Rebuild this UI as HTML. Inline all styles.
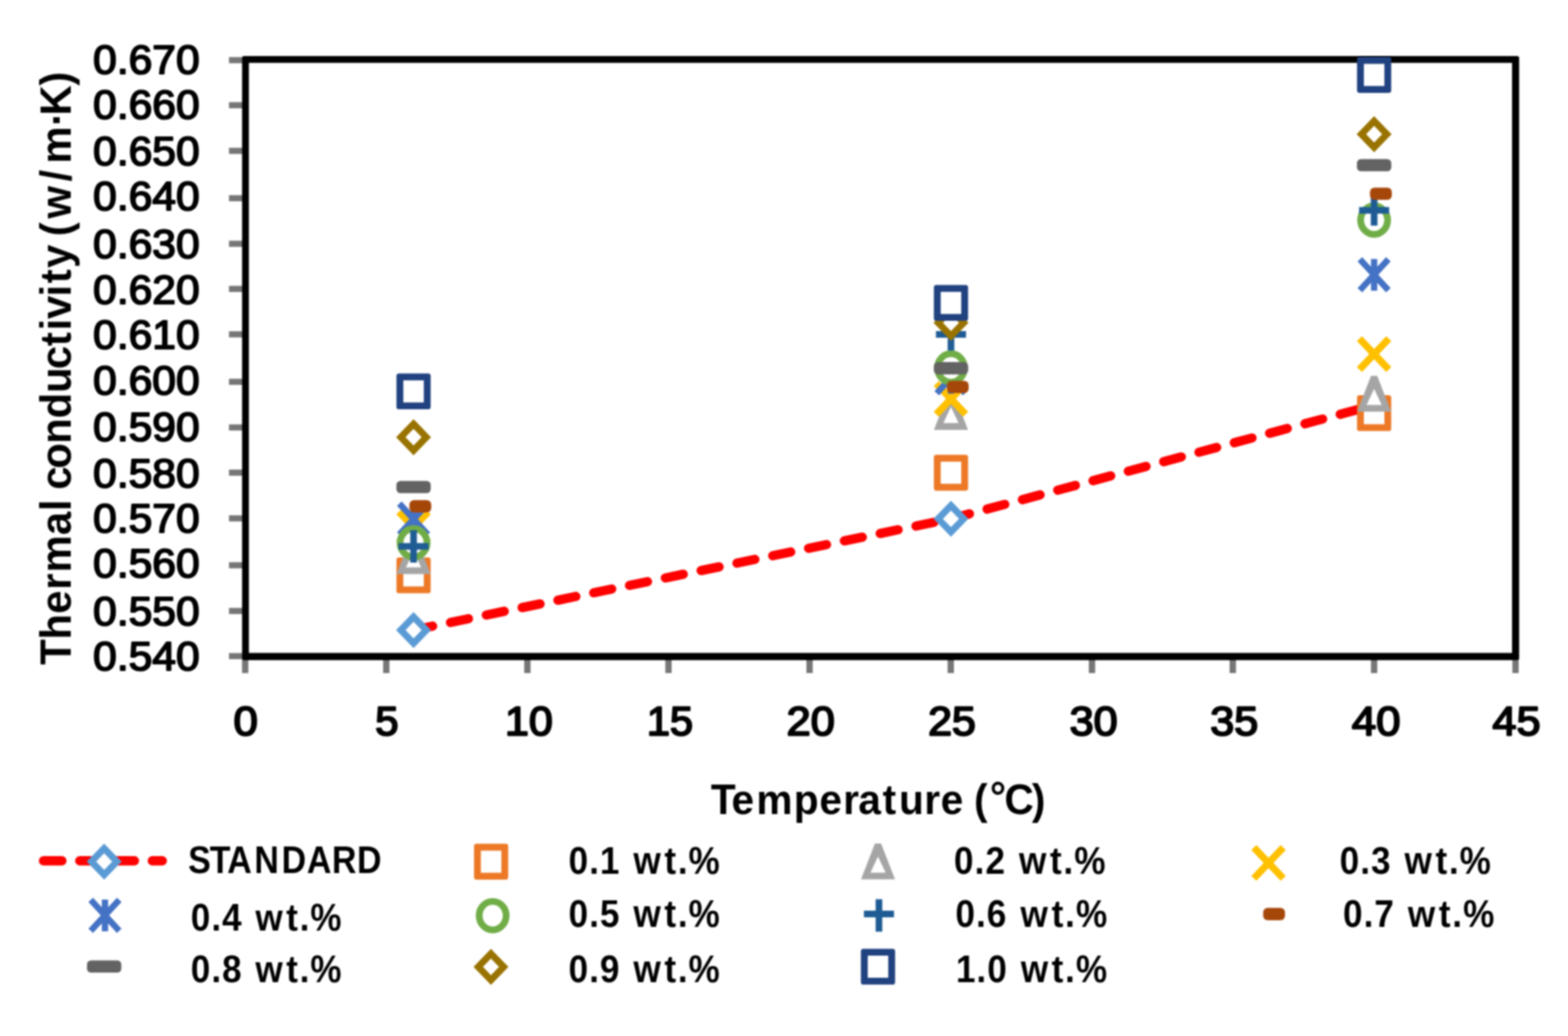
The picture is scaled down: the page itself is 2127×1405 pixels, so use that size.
<!DOCTYPE html>
<html lang="en"><head><meta charset="utf-8"><title>Thermal conductivity vs temperature</title>
<style>html,body{margin:0;padding:0;background:#fff;width:2127px;height:1405px}svg{display:block}text{font-family:"Liberation Sans",sans-serif;fill:#000;font-weight:bold}.tk,.tx{font-size:55px;font-weight:normal;stroke:#000;stroke-width:2.2px;stroke-linejoin:round}.tx{stroke-width:2.5px}.ti{font-size:60px}.lg{font-size:51px}</style></head><body>
<svg width="2127" height="1405" viewBox="0 0 2127 1405">
<rect width="2127" height="1405" fill="#fff"/>
<g style="filter:blur(1.0px)">
<g stroke="#767676" stroke-width="8.3" fill="none">
<line x1="310.6" y1="81.6" x2="333.0" y2="81.6"/>
<line x1="310.6" y1="142.7" x2="333.0" y2="142.7"/>
<line x1="310.6" y1="204.6" x2="333.0" y2="204.6"/>
<line x1="310.6" y1="268.8" x2="333.0" y2="268.8"/>
<line x1="310.6" y1="330.6" x2="333.0" y2="330.6"/>
<line x1="310.6" y1="391.8" x2="333.0" y2="391.8"/>
<line x1="310.6" y1="453.4" x2="333.0" y2="453.4"/>
<line x1="310.6" y1="517.8" x2="333.0" y2="517.8"/>
<line x1="310.6" y1="579.7" x2="333.0" y2="579.7"/>
<line x1="310.6" y1="641.0" x2="333.0" y2="641.0"/>
<line x1="310.6" y1="703.0" x2="333.0" y2="703.0"/>
<line x1="310.6" y1="766.6" x2="333.0" y2="766.6"/>
<line x1="310.6" y1="828.6" x2="333.0" y2="828.6"/>
<line x1="310.6" y1="889.8" x2="333.0" y2="889.8"/>
<line x1="332.6" y1="889.8" x2="332.6" y2="912.8" stroke-width="8.6"/>
<line x1="524.0" y1="889.8" x2="524.0" y2="912.8" stroke-width="8.6"/>
<line x1="715.4" y1="889.8" x2="715.4" y2="912.8" stroke-width="8.6"/>
<line x1="906.8" y1="889.8" x2="906.8" y2="912.8" stroke-width="8.6"/>
<line x1="1098.2" y1="889.8" x2="1098.2" y2="912.8" stroke-width="8.6"/>
<line x1="1289.7" y1="889.8" x2="1289.7" y2="912.8" stroke-width="8.6"/>
<line x1="1481.3" y1="889.8" x2="1481.3" y2="912.8" stroke-width="8.6"/>
<line x1="1672.3" y1="889.8" x2="1672.3" y2="912.8" stroke-width="8.6"/>
<line x1="1864.0" y1="889.8" x2="1864.0" y2="912.8" stroke-width="8.6"/>
<line x1="2055.8" y1="889.8" x2="2055.8" y2="912.8" stroke-width="8.6"/>
</g>
<path fill="#000" fill-rule="evenodd" d="M330.9 76.1H2058.2Q2060.7 76.1 2060.7 78.6V892.7Q2060.7 895.2 2058.2 895.2H330.9Q328.4 895.2 328.4 892.7V78.6Q328.4 76.1 330.9 76.1Z M337.6 85.2V885.6H2051.1V85.2Z"/>
<text class="tk" x="126.3" y="100.3" textLength="144.5" lengthAdjust="spacingAndGlyphs">0.670</text>
<text class="tk" x="126.3" y="161.4" textLength="144.5" lengthAdjust="spacingAndGlyphs">0.660</text>
<text class="tk" x="126.3" y="223.7" textLength="144.5" lengthAdjust="spacingAndGlyphs">0.650</text>
<text class="tk" x="126.3" y="284.8" textLength="144.5" lengthAdjust="spacingAndGlyphs">0.640</text>
<text class="tk" x="126.3" y="349.7" textLength="144.5" lengthAdjust="spacingAndGlyphs">0.630</text>
<text class="tk" x="126.3" y="411.9" textLength="144.5" lengthAdjust="spacingAndGlyphs">0.620</text>
<text class="tk" x="126.3" y="472.6" textLength="144.5" lengthAdjust="spacingAndGlyphs">0.610</text>
<text class="tk" x="126.3" y="534.9" textLength="144.5" lengthAdjust="spacingAndGlyphs">0.600</text>
<text class="tk" x="126.3" y="598.4" textLength="144.5" lengthAdjust="spacingAndGlyphs">0.590</text>
<text class="tk" x="126.3" y="660.6" textLength="144.5" lengthAdjust="spacingAndGlyphs">0.580</text>
<text class="tk" x="126.3" y="721.9" textLength="144.5" lengthAdjust="spacingAndGlyphs">0.570</text>
<text class="tk" x="126.3" y="782.7" textLength="144.5" lengthAdjust="spacingAndGlyphs">0.560</text>
<text class="tk" x="126.3" y="848.0" textLength="144.5" lengthAdjust="spacingAndGlyphs">0.550</text>
<text class="tk" x="126.3" y="908.5" textLength="144.5" lengthAdjust="spacingAndGlyphs">0.540</text>
<text class="tx" x="316.7" y="997.4" textLength="33.0" lengthAdjust="spacingAndGlyphs">0</text>
<text class="tx" x="509.0" y="997.4" textLength="31.6" lengthAdjust="spacingAndGlyphs">5</text>
<text class="tx" x="685.1" y="997.4" textLength="64.8" lengthAdjust="spacingAndGlyphs">10</text>
<text class="tx" x="877.4" y="997.4" textLength="62.7" lengthAdjust="spacingAndGlyphs">15</text>
<text class="tx" x="1067.1" y="997.4" textLength="65.4" lengthAdjust="spacingAndGlyphs">20</text>
<text class="tx" x="1258.9" y="997.4" textLength="64.9" lengthAdjust="spacingAndGlyphs">25</text>
<text class="tx" x="1451.0" y="997.4" textLength="65.1" lengthAdjust="spacingAndGlyphs">30</text>
<text class="tx" x="1641.8" y="997.4" textLength="65.1" lengthAdjust="spacingAndGlyphs">35</text>
<text class="tx" x="1833.7" y="997.4" textLength="66.1" lengthAdjust="spacingAndGlyphs">40</text>
<text class="tx" x="2024.6" y="997.4" textLength="65.1" lengthAdjust="spacingAndGlyphs">45</text>
<text class="lg" transform="translate(0 1184.2) scale(0.9041 1)" x="282.2 314.6 341.1 381.7 422.6 460.4 497.9 535.7" y="0">STANDARD</text>
<text class="lg" transform="translate(0 1184.8) scale(0.9353 1)" x="824.6 854.5 870.1 904.4 918.7 963.5 983.0 998.7" y="0">0.1 wt.%</text>
<text class="lg" transform="translate(0 1184.7) scale(0.9372 1)" x="1380.8 1410.6 1426.2 1460.7 1474.9 1519.7 1539.3 1554.9" y="0">0.2 wt.%</text>
<text class="lg" transform="translate(0 1184.7) scale(0.9353 1)" x="1943.0 1972.9 1988.5 2022.8 2037.1 2081.9 2101.4 2117.1" y="0">0.3 wt.%</text>
<text class="lg" transform="translate(0 1261.8) scale(0.9326 1)" x="277.5 307.4 323.1 357.2 371.5 416.3 435.8 451.5" y="0">0.4 wt.%</text>
<text class="lg" transform="translate(0 1256.8) scale(0.9353 1)" x="824.6 854.5 870.1 904.4 918.7 963.5 983.0 998.7" y="0">0.5 wt.%</text>
<text class="lg" transform="translate(0 1256.6) scale(0.9381 1)" x="1381.6 1411.4 1426.9 1461.4 1475.7 1520.5 1540.0 1555.7" y="0">0.6 wt.%</text>
<text class="lg" transform="translate(0 1256.8) scale(0.9363 1)" x="1945.7 1975.5 1991.1 2025.5 2039.8 2084.6 2104.1 2119.8" y="0">0.7 wt.%</text>
<text class="lg" transform="translate(0 1332.2) scale(0.9326 1)" x="277.5 307.4 323.1 357.2 371.5 416.3 435.8 451.5" y="0">0.8 wt.%</text>
<text class="lg" transform="translate(0 1332.3) scale(0.9353 1)" x="824.6 854.5 870.1 904.4 918.7 963.5 983.0 998.7" y="0">0.9 wt.%</text>
<text class="lg" transform="translate(0 1332.3) scale(0.9353 1)" x="1386.4 1416.2 1431.9 1466.2 1480.5 1525.3 1544.8 1560.5" y="0">1.0 wt.%</text>
<text class="ti" style="font-size:57px" transform="translate(0 1104.4) scale(0.9684 1)" x="995.8 1024.7 1059.4 1112.0 1147.9 1181.2 1202.2 1236.4 1259.2 1294.6 1317.7 1348.3 1364.3 1386.7 1406.9 1445.5" y="0 0 0 0 0 0 0 0 0 0 0 0 0 -4.6 0 0">Temperature (°C)</text>
<text class="ti" transform="translate(96.0 900.0) rotate(-90) scale(0.9467 1)" x="-1.8 34.4 71.5 105.8 130.7 184.3 218.5 232.4 249.2 279.2 314.9 351.3 387.9 421.9 454.8 477.3 493.8 525.8 545.0 566.7 595.5 612.3 637.7 690.8 716.2 770.1 785.2 827.9" y="0">Thermal conductivity (w/m·K)</text>
</g>
<g style="filter:blur(1.0px)">
<polyline points="561.0,854.5 1290.0,703.6 1864.0,549.5" fill="none" stroke="#FF0000" stroke-width="12.6" stroke-linecap="round" stroke-linejoin="round" stroke-dasharray="24.8 24.8" stroke-dashoffset="-1.6"/>
<g><path d="M561.0 836.6L578.3 854.5L561.0 872.4L543.7 854.5Z" fill="#fff" stroke="#5B9BD5" stroke-width="9.2" stroke-linejoin="miter"/><path d="M1290.0 685.7L1307.3 703.6L1290.0 721.5L1272.7 703.6Z" fill="#fff" stroke="#5B9BD5" stroke-width="9.2" stroke-linejoin="miter"/><path d="M1864.0 531.6L1881.3 549.5L1864.0 567.4L1846.7 549.5Z" fill="#fff" stroke="#5B9BD5" stroke-width="9.2" stroke-linejoin="miter"/></g>
<g><path d="M541.2 756.0H580.8Q584.2 756.0 584.2 759.4V801.2Q584.2 804.6 580.8 804.6H541.2Q537.8 804.6 537.8 801.2V759.4Q537.8 756.0 541.2 756.0Z" fill="#ED7927"/><rect x="547.1" y="765.3" width="27.8" height="30.0" fill="#fff"/><path d="M1270.2 616.8H1309.8Q1313.2 616.8 1313.2 620.2V662.0Q1313.2 665.4 1309.8 665.4H1270.2Q1266.8 665.4 1266.8 662.0V620.2Q1266.8 616.8 1270.2 616.8Z" fill="#ED7927"/><rect x="1276.1" y="626.1" width="27.8" height="30.0" fill="#fff"/><path d="M1844.2 536.0H1883.8Q1887.2 536.0 1887.2 539.4V581.2Q1887.2 584.6 1883.8 584.6H1844.2Q1840.8 584.6 1840.8 581.2V539.4Q1840.8 536.0 1844.2 536.0Z" fill="#ED7927"/><rect x="1850.1" y="545.3" width="27.8" height="30.0" fill="#fff"/></g>
<g><polygon points="556.8,730.0 565.2,730.0 584.1,778.6 537.9,778.6" fill="#A5A5A5"/><polygon points="561.0,747.5 571.3,769.5 550.7,769.5" fill="#fff"/><polygon points="1285.8,534.3 1294.2,534.3 1313.1,582.9 1266.9,582.9" fill="#A5A5A5"/><polygon points="1290.0,551.8 1300.3,573.8 1279.7,573.8" fill="#fff"/><polygon points="1859.8,509.7 1868.2,509.7 1887.1,558.3 1840.9,558.3" fill="#A5A5A5"/><polygon points="1864.0,527.2 1874.3,549.2 1853.7,549.2" fill="#fff"/></g>
<g><path d="M541.1 694.1L580.9 735.9M580.9 694.1L541.1 735.9" fill="none" stroke="#FFC000" stroke-width="9.6"/><path d="M1270.1 520.1L1309.9 561.9M1309.9 520.1L1270.1 561.9" fill="none" stroke="#FFC000" stroke-width="9.6"/><path d="M1844.1 459.3L1883.9 501.1M1883.9 459.3L1844.1 501.1" fill="none" stroke="#FFC000" stroke-width="9.6"/></g>
<g><path d="M541.7 683.0L580.3 725.0M580.3 683.0L541.7 725.0M561.0 682.5L561.0 725.5" fill="none" stroke="#4472C4" stroke-width="8.5"/><path d="M1270.7 491.4L1309.3 533.4M1309.3 491.4L1270.7 533.4M1290.0 490.9L1290.0 533.9" fill="none" stroke="#4472C4" stroke-width="8.5"/><path d="M1844.7 351.7L1883.3 393.7M1883.3 351.7L1844.7 393.7M1864.0 351.2L1864.0 394.2" fill="none" stroke="#4472C4" stroke-width="8.5"/></g>
<g><ellipse cx="561.0" cy="736.2" rx="18.3" ry="19.3" fill="#fff" stroke="#70AD47" stroke-width="9.2"/><ellipse cx="1290.0" cy="499.0" rx="18.3" ry="19.3" fill="#fff" stroke="#70AD47" stroke-width="9.2"/><ellipse cx="1864.0" cy="298.5" rx="18.3" ry="19.3" fill="#fff" stroke="#70AD47" stroke-width="9.2"/></g>
<g><path d="M540.6 741.0L581.4 741.0M561.0 719.0L561.0 763.0" fill="none" stroke="#1F5C94" stroke-width="9"/><path d="M1269.6 453.5L1310.4 453.5M1290.0 431.5L1290.0 475.5" fill="none" stroke="#1F5C94" stroke-width="9"/><path d="M1843.6 285.3L1884.4 285.3M1864.0 262.0L1864.0 306.0" fill="none" stroke="#1F5C94" stroke-width="9"/></g>
<g><rect x="555.4" y="678.3" width="29.6" height="16.6" rx="6" fill="#A6470A"/><rect x="1284.4" y="516.5" width="29.6" height="16.6" rx="6" fill="#A6470A"/><rect x="1858.4" y="254.4" width="29.6" height="16.6" rx="6" fill="#A6470A"/></g>
<g><rect x="537.7" y="652.2" width="46.6" height="16.6" rx="5.5" fill="#636363"/><rect x="1266.7" y="491.1" width="46.6" height="16.6" rx="5.5" fill="#636363"/><rect x="1840.7" y="215.7" width="46.6" height="16.6" rx="5.5" fill="#636363"/></g>
<g><path d="M561.0 575.0L578.3 592.9L561.0 610.8L543.7 592.9Z" fill="#fff" stroke="#997300" stroke-width="9.2" stroke-linejoin="miter"/><path d="M1290.0 419.8L1307.3 437.7L1290.0 455.6L1272.7 437.7Z" fill="#fff" stroke="#997300" stroke-width="9.2" stroke-linejoin="miter"/><path d="M1864.0 164.1L1881.3 182.0L1864.0 199.9L1846.7 182.0Z" fill="#fff" stroke="#997300" stroke-width="9.2" stroke-linejoin="miter"/></g>
<g><path d="M541.2 506.5H580.8Q584.2 506.5 584.2 509.9V551.7Q584.2 555.1 580.8 555.1H541.2Q537.8 555.1 537.8 551.7V509.9Q537.8 506.5 541.2 506.5Z" fill="#214280"/><rect x="547.1" y="515.8" width="27.8" height="30.0" fill="#fff"/><path d="M1270.2 386.5H1309.8Q1313.2 386.5 1313.2 389.9V431.7Q1313.2 435.1 1309.8 435.1H1270.2Q1266.8 435.1 1266.8 431.7V389.9Q1266.8 386.5 1270.2 386.5Z" fill="#214280"/><rect x="1276.1" y="395.8" width="27.8" height="30.0" fill="#fff"/><path d="M1844.2 77.3H1883.8Q1887.2 77.3 1887.2 80.7V122.5Q1887.2 125.9 1883.8 125.9H1844.2Q1840.8 125.9 1840.8 122.5V80.7Q1840.8 77.3 1844.2 77.3Z" fill="#214280"/><rect x="1850.1" y="86.6" width="27.8" height="30.0" fill="#fff"/></g>
<line x1="59" y1="1167.4" x2="220.2" y2="1167.4" stroke="#FF0000" stroke-width="12.6" stroke-linecap="round" stroke-dasharray="25 24.2"/>
<path d="M141.3 1150.6L158.6 1168.5L141.3 1186.4L124.0 1168.5Z" fill="#fff" stroke="#5B9BD5" stroke-width="9.2" stroke-linejoin="miter"/>
<path d="M646.4 1144.3H686.0Q689.4 1144.3 689.4 1147.7V1189.5Q689.4 1192.9 686.0 1192.9H646.4Q643.0 1192.9 643.0 1189.5V1147.7Q643.0 1144.3 646.4 1144.3Z" fill="#ED7927"/><rect x="652.3" y="1153.6" width="27.8" height="30.0" fill="#fff"/>
<polygon points="1186.8,1144.0 1195.2,1144.0 1214.1,1192.6 1168.0,1192.6" fill="#A5A5A5"/><polygon points="1191.0,1161.5 1201.3,1183.5 1180.8,1183.5" fill="#fff"/>
<path d="M1700.9 1149.4L1740.7 1191.2M1740.7 1149.4L1700.9 1191.2" fill="none" stroke="#FFC000" stroke-width="9.6"/>
<path d="M123.1 1220.4L161.7 1262.4M161.7 1220.4L123.1 1262.4M142.4 1219.9L142.4 1262.9" fill="none" stroke="#4472C4" stroke-width="8.5"/>
<ellipse cx="668.3" cy="1241.8" rx="18.3" ry="19.3" fill="#fff" stroke="#70AD47" stroke-width="9.2"/>
<path d="M1171.9 1239.6L1212.7 1239.6M1192.3 1219.4L1192.3 1263.4" fill="none" stroke="#1F5C94" stroke-width="9"/>
<rect x="1713.5" y="1231.3" width="29.6" height="16.6" rx="6" fill="#A6470A"/>
<rect x="118.0" y="1302.5" width="46.6" height="16.6" rx="5.5" fill="#636363"/>
<path d="M666.0 1293.4L683.3 1311.3L666.0 1329.2L648.7 1311.3Z" fill="#fff" stroke="#997300" stroke-width="9.2" stroke-linejoin="miter"/>
<path d="M1171.2 1286.7H1210.8Q1214.2 1286.7 1214.2 1290.1V1331.9Q1214.2 1335.3 1210.8 1335.3H1171.2Q1167.8 1335.3 1167.8 1331.9V1290.1Q1167.8 1286.7 1171.2 1286.7Z" fill="#214280"/><rect x="1177.1" y="1296.0" width="27.8" height="30.0" fill="#fff"/>
</g>
</svg></body></html>
